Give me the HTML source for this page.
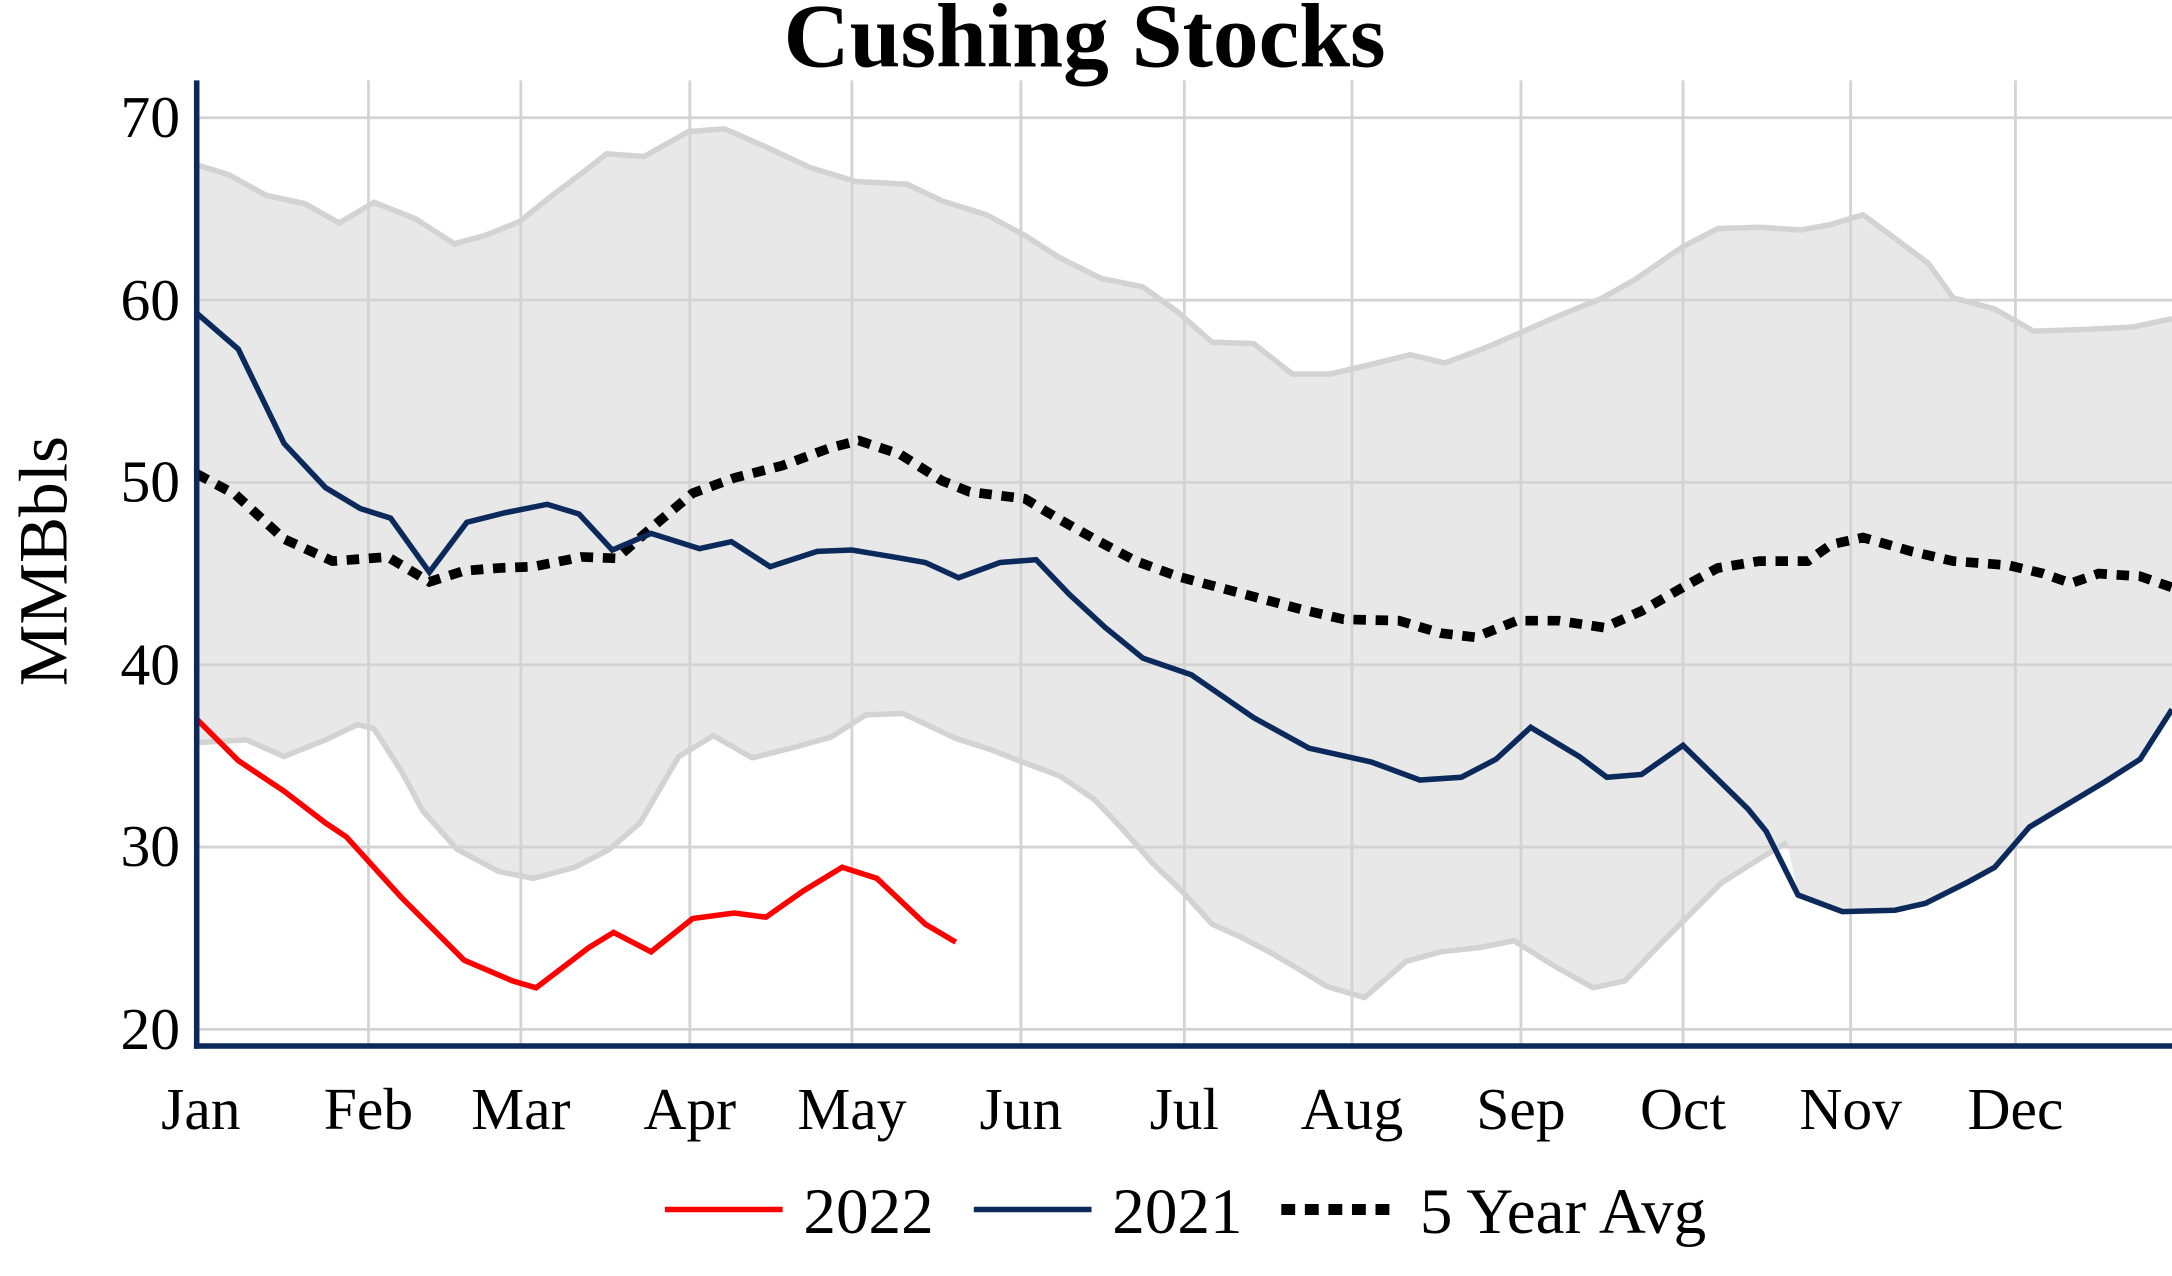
<!DOCTYPE html>
<html><head><meta charset="utf-8"><style>
html,body{margin:0;padding:0;background:#fff;}
svg{display:block;}
text{font-family:"Liberation Serif",serif;fill:#000;}
</style></head><body>
<svg width="2172" height="1276" viewBox="0 0 1568 921" preserveAspectRatio="none" xmlns="http://www.w3.org/2000/svg">
<rect width="1568" height="921" fill="#fff"/>
<polygon fill="#e8e8e8" points="142,119 165,126 192,141 220,147 245,161 270,146 300,158 328,176 350,170 375,160 400,140 420,125 438,111 465,113 497,95 523,93 555,107 585,121 618,131 655,133 680,145 712,155 740,170 765,186 795,201 825,207 850,225 875,247 905,248 933,270 960,270 990,263 1018,256 1043,262 1070,252 1098,240 1125,228 1155,216 1180,202 1215,178 1240,165 1270,164 1300,166 1322,162 1345,155 1368,172 1392,190 1410,215 1440,223 1468,239 1500,238 1540,236 1568,230 1568,512 1545,548 1520,564 1490,582 1465,597 1440,625 1420,637 1390,652 1368,656 1330,657 1298,645 1290,608 1270,620 1243,637 1220,660 1200,680 1173,708 1150,713 1120,696 1093,679 1068,684 1040,687 1015,694 985,720 958,712 935,698 918,688 895,676 875,667 855,645 832,623 810,598 790,577 765,560 738,550 715,541 690,533 652,515 625,516 600,532 575,539 543,547 515,531 490,546 462,594 440,613 415,626 385,634 360,629 330,613 305,585 290,557 270,526 258,523 235,534 205,546 178,534 142,536"/>
<g stroke="#d3d3d3" stroke-width="2">
<line x1="142" x2="1568" y1="85" y2="85"/><line x1="142" x2="1568" y1="216.6" y2="216.6"/><line x1="142" x2="1568" y1="348.2" y2="348.2"/><line x1="142" x2="1568" y1="479.8" y2="479.8"/><line x1="142" x2="1568" y1="611.4" y2="611.4"/><line x1="142" x2="1568" y1="743" y2="743"/>
<line x1="266" x2="266" y1="58" y2="755"/><line x1="376" x2="376" y1="58" y2="755"/><line x1="498" x2="498" y1="58" y2="755"/><line x1="615" x2="615" y1="58" y2="755"/><line x1="737" x2="737" y1="58" y2="755"/><line x1="855" x2="855" y1="58" y2="755"/><line x1="976" x2="976" y1="58" y2="755"/><line x1="1098" x2="1098" y1="58" y2="755"/><line x1="1215" x2="1215" y1="58" y2="755"/><line x1="1336" x2="1336" y1="58" y2="755"/><line x1="1455" x2="1455" y1="58" y2="755"/>
</g>
<polyline fill="none" stroke="#d3d3d3" stroke-width="4" points="142,119 165,126 192,141 220,147 245,161 270,146 300,158 328,176 350,170 375,160 400,140 420,125 438,111 465,113 497,95 523,93 555,107 585,121 618,131 655,133 680,145 712,155 740,170 765,186 795,201 825,207 850,225 875,247 905,248 933,270 960,270 990,263 1018,256 1043,262 1070,252 1098,240 1125,228 1155,216 1180,202 1215,178 1240,165 1270,164 1300,166 1322,162 1345,155 1368,172 1392,190 1410,215 1440,223 1468,239 1500,238 1540,236 1568,230"/>
<polyline fill="none" stroke="#d3d3d3" stroke-width="4" points="142,536 178,534 205,546 235,534 258,523 270,526 290,557 305,585 330,613 360,629 385,634 415,626 440,613 462,594 490,546 515,531 543,547 575,539 600,532 625,516 652,515 690,533 715,541 738,550 765,560 790,577 810,598 832,623 855,645 875,667 895,676 918,688 935,698 958,712 985,720 1015,694 1040,687 1068,684 1093,679 1120,696 1150,713 1173,708 1200,680 1220,660 1243,637 1270,620 1290,608"/>
<polyline fill="none" stroke="#000" stroke-width="7" stroke-dasharray="9,7" points="142,342 170,357 205,389 240,405 280,402 310,420 335,412 360,410 385,409 420,402 445,403 475,377 500,356 530,345 565,336 600,323 620,318 650,328 680,347 700,355 740,360 765,375 790,389 820,405 850,416 880,424 910,432 940,440 970,447 1010,448 1040,457 1065,460 1095,448 1125,448 1158,453 1185,441 1220,421 1240,410 1270,405 1305,405 1322,393 1345,388 1380,398 1410,405 1450,408 1475,414 1495,421 1515,414 1545,416 1568,424"/>
<polyline fill="none" stroke="#0b2a5b" stroke-width="4" points="142,226 172,252 205,320 235,352 260,367 282,374 310,413 337,377 365,370 395,364 418,371 442,397 470,385 505,396 528,391 556,409 590,398 615,397 645,402 668,406 692,417 722,406 748,404 772,429 798,453 825,475 860,487 905,518 945,540 990,550 1025,563 1055,561 1080,548 1105,525 1140,546 1160,561 1185,559 1215,538 1262,584 1275,600 1298,646 1330,658 1368,657 1390,652 1420,637 1440,626 1465,597 1520,564 1545,548 1568,512"/>
<polyline fill="none" stroke="#ff0000" stroke-width="4" points="142,519 172,549 205,571 235,594 250,604 290,648 335,693 370,708 387,713 425,684 443,673 470,687 500,663 530,659 553,662 580,643 608,626 633,634 668,667 690,680"/>
<line x1="142" x2="142" y1="58" y2="757" stroke="#0b2a5b" stroke-width="4"/>
<line x1="140" x2="1568" y1="755" y2="755" stroke="#0b2a5b" stroke-width="4"/>
<text x="783" y="48" font-size="66" font-weight="bold" text-anchor="middle">Cushing Stocks</text>
<text transform="translate(48,405) rotate(-90)" font-size="50" text-anchor="middle">MMBbls</text>
<g font-size="43" text-anchor="end">
<text x="130" y="99">70</text><text x="130" y="231">60</text><text x="130" y="362">50</text><text x="130" y="494">40</text><text x="130" y="625">30</text><text x="130" y="757">20</text>
</g>
<g font-size="43" text-anchor="middle">
<text x="145" y="815">Jan</text><text x="266" y="815">Feb</text><text x="376" y="815">Mar</text><text x="498" y="815">Apr</text><text x="615" y="815">May</text><text x="737" y="815">Jun</text><text x="855" y="815">Jul</text><text x="976" y="815">Aug</text><text x="1098" y="815">Sep</text><text x="1215" y="815">Oct</text><text x="1336" y="815">Nov</text><text x="1455" y="815">Dec</text>
</g>
<line x1="480" x2="565" y1="873" y2="873" stroke="#ff0000" stroke-width="4"/>
<text x="580" y="890" font-size="47">2022</text>
<line x1="703" x2="788" y1="873" y2="873" stroke="#0b2a5b" stroke-width="4"/>
<text x="803" y="890" font-size="47">2021</text>
<line x1="925" x2="1005" y1="873" y2="873" stroke="#000" stroke-width="8" stroke-dasharray="10,7"/>
<text x="1025" y="890" font-size="47">5 Year Avg</text>
</svg>
</body></html>
